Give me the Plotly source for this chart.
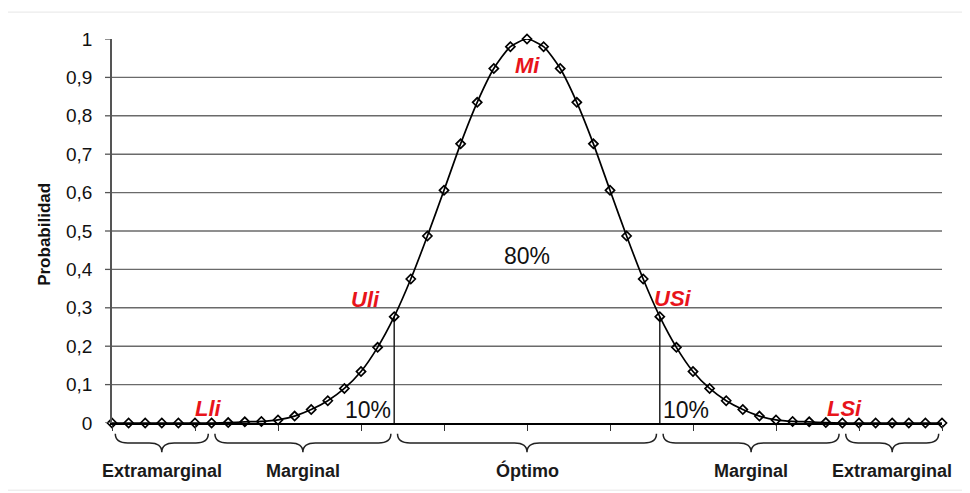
import plotly.graph_objects as go

# ---------------- data ----------------
x_index = list(range(51))
prob_left = [0, 0, 0, 0, 0, 0, 0, 0.001, 0.003, 0.004, 0.008, 0.018, 0.035, 0.058, 0.09,
             0.134, 0.197, 0.277, 0.375, 0.487, 0.606, 0.727, 0.835, 0.923, 0.98]
prob_peak = [1.0]
prob_right = [0.98, 0.923, 0.835, 0.727, 0.606, 0.487, 0.375, 0.277, 0.197, 0.134, 0.09,
              0.058, 0.035, 0.018, 0.008, 0.004, 0.003, 0.001, 0, 0, 0, 0, 0, 0, 0]
probability = prob_left + prob_peak + prob_right

y_tick_vals = [0, 0.1, 0.2, 0.3, 0.4, 0.5, 0.6, 0.7, 0.8, 0.9, 1]
y_tick_text = ["0", "0,1", "0,2", "0,3", "0,4", "0,5", "0,6", "0,7", "0,8", "0,9", "1"]
x_tick_vals = [0, 5, 10, 15, 20, 25, 30, 35, 40, 45, 50]

# limits (indices) : Lli, Uli, Mi, USi, LSi
idx_Lli, idx_Uli, idx_Mi, idx_USi, idx_LSi = 6, 17, 25, 33, 44

zones = ["Extramarginal", "Marginal", "Óptimo", "Marginal", "Extramarginal"]
zone_bounds = [(0, 6), (6, 17), (17, 33), (33, 44), (44, 50)]

x_range = [0, 50]
y_range = [0, 1]

FONT = "Liberation Sans, Arial, sans-serif"
RED = "#e8141b"
PLOT_W = 830  # plot area width in px (for tick-mark length in paper units)

fig = go.Figure()

# vertical limit lines at Uli / USi
for idx in (idx_Uli, idx_USi):
    fig.add_trace(go.Scatter(x=[x_index[idx], x_index[idx]], y=[0, probability[idx]],
                             mode="lines", line=dict(color="#222", width=1.5),
                             hoverinfo="skip", showlegend=False, cliponaxis=False))

# main curve
fig.add_trace(go.Scatter(x=x_index, y=probability, mode="lines+markers",
                         line=dict(color="black", width=1.7, shape="spline", smoothing=0.6),
                         marker=dict(symbol="diamond-open", size=7, color="black",
                                     line=dict(color="black", width=1.7)),
                         showlegend=False, cliponaxis=False))

shapes = []
# horizontal gridlines (no line at the top)
for v in y_tick_vals[1:-1]:
    shapes.append(dict(type="line", xref="paper", yref="y", x0=0, x1=1, y0=v, y1=v,
                       line=dict(color="#6a6a6a", width=1.4), layer="below"))
# short y tick marks
for v in y_tick_vals:
    shapes.append(dict(type="line", xref="paper", yref="y", x0=-7 / PLOT_W, x1=0, y0=v, y1=v,
                       line=dict(color="#555", width=1.3)))


def px(i):
    return (i - x_range[0]) / (x_range[1] - x_range[0])


# braces
yt, ym, yb = -0.028, -0.052, -0.076
dx = 0.015
gap = 0.004
for (a, b) in zone_bounds:
    x0 = px(a) + gap
    x1 = px(b) - gap
    xc = (x0 + x1) / 2
    path = (f"M {x0},{yt} Q {x0},{ym} {x0 + dx},{ym} L {xc - dx},{ym} "
            f"Q {xc},{ym} {xc},{yb} Q {xc},{ym} {xc + dx},{ym} "
            f"L {x1 - dx},{ym} Q {x1},{ym} {x1},{yt}")
    shapes.append(dict(type="path", xref="paper", yref="paper", path=path,
                       line=dict(color="#222", width=1.5)))

# faint outer frame
shapes.append(dict(type="rect", xref="paper", yref="paper",
                   x0=-0.1265, x1=1.03, y0=-0.175, y1=1.07,
                   line=dict(color="#e6e6e6", width=1), layer="below"))

annotations = []
# zone labels
for (a, b), name in zip(zone_bounds, zones):
    annotations.append(dict(x=px((a + b) / 2), y=-0.124, xref="paper", yref="paper",
                            yanchor="middle", xanchor="center",
                            text=f"<b>{name}</b>", showarrow=False,
                            font=dict(family=FONT, size=18, color="#1a1a1a")))

# red limit labels
red_labels = [("Mi", idx_Mi, 0.93), ("Uli", idx_Uli - 1.7, 0.322), ("USi", idx_USi + 0.8, 0.323),
              ("Lli", idx_Lli - 0.2, 0.037), ("LSi", idx_LSi + 0.1, 0.037)]
for text, xi, yv in red_labels:
    annotations.append(dict(x=xi, y=yv, xref="x", yref="y", text=f"<b><i>{text}</i></b>",
                            yanchor="middle", showarrow=False,
                            font=dict(family=FONT, size=22, color=RED)))

# percentages
pct_labels = [("80%", idx_Mi, 0.435), ("10%", idx_Uli - 1.6, 0.034), ("10%", idx_USi + 1.6, 0.034)]
for text, xi, yv in pct_labels:
    annotations.append(dict(x=xi, y=yv, xref="x", yref="y", text=text, showarrow=False,
                            yanchor="middle",
                            font=dict(family=FONT, size=23, color="#111")))

# y title
annotations.append(dict(x=-67 / PLOT_W, y=0.49, xref="paper", yref="paper",
                        text="<b>Probabilidad</b>", xanchor="center", yanchor="middle",
                        textangle=-90, showarrow=False,
                        font=dict(family=FONT, size=17, color="#111")))

fig.update_layout(
    width=970, height=493,
    margin=dict(l=104, r=36, t=31, b=78),
    paper_bgcolor="white", plot_bgcolor="white",
    shapes=shapes, annotations=annotations,
    xaxis=dict(range=x_range, showgrid=False, zeroline=False, showline=True,
               linecolor="black", linewidth=2, tickvals=x_tick_vals, ticks="outside",
               ticklen=6, tickcolor="#333", tickwidth=1.3, showticklabels=False),
    yaxis=dict(range=y_range, showgrid=False, zeroline=False, showline=True,
               linecolor="#555", linewidth=1.5, tickvals=y_tick_vals, ticktext=y_tick_text,
               ticks="outside", ticklen=14, tickcolor="rgba(0,0,0,0)", tickwidth=1,
               tickfont=dict(family=FONT, size=19, color="#111")),
    showlegend=False,
)

fig.write_html("out.html")
